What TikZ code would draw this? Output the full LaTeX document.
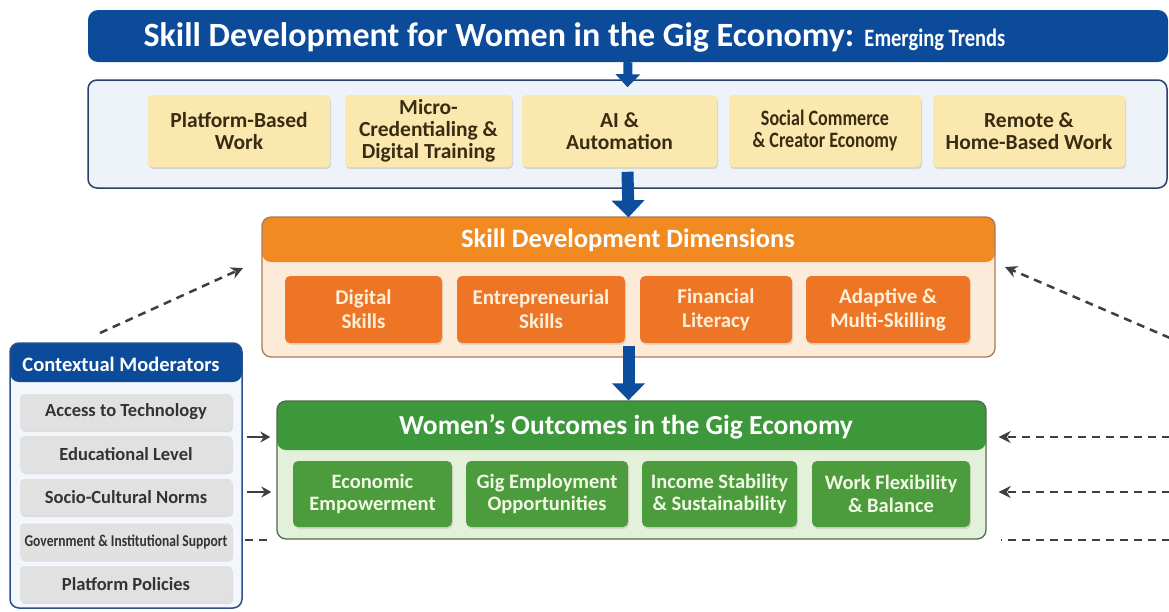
\documentclass[tikz,border=0pt]{standalone}
\usepackage{fontspec}
\setmainfont{Carlito}
\newfontfamily\condfont[FakeStretch=0.82]{Carlito}
\usetikzlibrary{arrows.meta,shadows}

\definecolor{bannerblue}{HTML}{0C4A9A}
\definecolor{arrowblue}{HTML}{0D4D9E}
\definecolor{trendbg}{HTML}{EEF3FA}
\definecolor{trendline}{HTML}{2B3F6B}
\definecolor{trendyellow}{HTML}{FBE8AE}
\definecolor{trendtext}{HTML}{3A2C12}
\definecolor{dimhead}{HTML}{F28A22}
\definecolor{dimbody}{HTML}{FDEBD9}
\definecolor{dimline}{HTML}{A97A58}
\definecolor{dimbox}{HTML}{EF7526}
\definecolor{dimtext}{HTML}{FDF0DA}
\definecolor{outhead}{HTML}{3C983A}
\definecolor{outbody}{HTML}{E4F1DA}
\definecolor{outline}{HTML}{4E6A4E}
\definecolor{outbox}{HTML}{4C9C3D}
\definecolor{outtext}{HTML}{F1F8E4}
\definecolor{modbody}{HTML}{F3F6FB}
\definecolor{modline}{HTML}{2C4F8A}
\definecolor{moditem}{HTML}{E1E1E1}
\definecolor{modtext}{HTML}{333333}
\definecolor{linkgrey}{HTML}{3F3F3F}

\tikzset{
	banner/.style={fill=bannerblue, rounded corners=10, minimum width=1080pt, minimum height=52pt},
	trendframe/.style={draw=trendline, line width=1.5pt, fill=trendbg, rounded corners=9,
		minimum width=1079pt, minimum height=108pt},
	trend/.style={fill=trendyellow, rounded corners=4, minimum height=72pt, align=center,
		text=trendtext, font=\bfseries\fontsize{21.5}{22}\selectfont,
		drop shadow={shadow xshift=1pt, shadow yshift=-2pt, opacity=0.25}},
	dimframe/.style={draw=dimline, line width=1.3pt, fill=dimbody, rounded corners=9,
		minimum width=733pt, minimum height=140pt,
		path picture={\fill[dimhead] (path picture bounding box.north west) rectangle
			([yshift=-45pt]path picture bounding box.north east);}},
	dim/.style={fill=dimbox, rounded corners=5, minimum height=67pt, align=center,
		text=dimtext, font=\bfseries\fontsize{21}{24}\selectfont,
		drop shadow={shadow xshift=1pt, shadow yshift=-2pt, opacity=0.2}},
	outframe/.style={draw=outline, line width=1.3pt, fill=outbody, rounded corners=9,
		minimum width=709pt, minimum height=138pt,
		path picture={\fill[outhead] (path picture bounding box.north west) rectangle
			([yshift=-49pt]path picture bounding box.north east);}},
	outc/.style={fill=outbox, rounded corners=5, minimum height=66pt, align=center,
		text=outtext, font=\bfseries\fontsize{20.5}{22.5}\selectfont,
		drop shadow={shadow xshift=1pt, shadow yshift=-2pt, opacity=0.2}},
	modframe/.style={draw=modline, line width=1.5pt, fill=modbody, rounded corners=9,
		minimum width=232pt, minimum height=265pt,
		path picture={\fill[bannerblue] (path picture bounding box.north west) rectangle
			([yshift=-39pt]path picture bounding box.north east);}},
	moditm/.style={fill=moditem, rounded corners=4, minimum width=212pt, minimum height=36pt,
		text=modtext, font=\bfseries\fontsize{18.5}{20}\selectfont,
		drop shadow={shadow xshift=1pt, shadow yshift=-2pt, opacity=0.2}},
	headtxt/.style={text=white, font=\bfseries\fontsize{26.5}{28}\selectfont},
	bigarrow/.style={draw=arrowblue, line width=12pt, -{Triangle[width=32pt,length=17pt]}},
	smallarrow/.style={draw=arrowblue, line width=9pt, -{Triangle[width=24pt,length=13pt]}},
	modarrow/.style={draw=linkgrey, line width=2pt, -{Stealth[length=10pt,width=11pt]}},
	dasharrow/.style={draw=linkgrey, line width=2.5pt, dash pattern=on 8pt off 6pt,
		-{Stealth[length=12pt,width=12pt]}},
	dashline/.style={draw=linkgrey, line width=2.5pt, dash pattern=on 8pt off 6pt}
}

\begin{document}
\begin{tikzpicture}[x=1pt,y=-1pt]
		\useasboundingbox[fill=white] (0,0) rectangle (1169,611);

		%% Title banner
		\node[banner] at (628,36)(banner){};
		\node[anchor=west, text=white] at (140,37)(title){\bfseries\fontsize{34}{36}\selectfont
			Skill Development for Women in the Gig Economy: {\condfont\bfseries\fontsize{25}{27}\selectfont Emerging Trends}};

		%% Emerging trends
		\node[trendframe] at (627.5,134)(trends){};

		\node[trend, minimum width=182pt] at (239,131)(t1){Platform-Based\\Work};
		\node[trend, minimum width=167pt] at (428.5,131)(t2){Micro-\\Credentialing \&\\Digital Training};
		\node[trend, minimum width=195pt] at (619.5,131)(t3){AI \&\\Automation};
		\node[trend, minimum width=192pt] at (825,131)(t4){\condfont\fontsize{22}{22}\selectfont Social Commerce\\\condfont\fontsize{22}{22}\selectfont\& Creator Economy};
		\node[trend, minimum width=192pt] at (1029,131)(t5){Remote \&\\Home-Based Work};

		%% Skill development dimensions
		\node[dimframe] at (628.5,287)(dims){};
		\node[headtxt] at (628,240)(dimshead){Skill Development Dimensions};

		\node[dim, minimum width=157pt] at (363.5,309.5)(d1){Digital\\Skills};
		\node[dim, minimum width=168pt] at (541,309.5)(d2){Entrepreneurial\\Skills};
		\node[dim, minimum width=152pt] at (716,309.5)(d3){Financial\\Literacy};
		\node[dim, minimum width=164pt] at (888,309.5)(d4){Adaptive \&\\Multi-Skilling};

		%% Outcomes
		\node[outframe] at (631.5,470)(outs){};
		\node[headtxt, font=\bfseries\fontsize{27.5}{29}\selectfont] at (626,427)(outshead){Women's Outcomes in the Gig Economy};

		\node[outc, minimum width=159pt] at (372.5,494)(o1){Economic\\Empowerment};
		\node[outc, minimum width=162pt] at (547,494)(o2){Gig Employment\\Opportunities};
		\node[outc, minimum width=155pt] at (719.5,494)(o3){Income Stability\\\& Sustainability};
		\node[outc, minimum width=158pt] at (891,494)(o4){Work Flexibility\\\& Balance};

		%% Contextual moderators
		\node[modframe] at (126,475.5)(mods){};
		\node[headtxt, font=\bfseries\fontsize{20.5}{22}\selectfont] at (121,364)(modshead){Contextual Moderators};

		\node[moditm] at (126,412)(m1){Access to Technology};
		\node[moditm] at (126,454)(m2){Educational Level};
		\node[moditm] at (126,497)(m3){Socio-Cultural Norms};
		\node[moditm] at (126,541.5)(m4){\condfont\bfseries\fontsize{16.5}{18}\selectfont Government \& Institutional Support};
		\node[moditm] at (126,584)(m5){Platform Policies};

		%% Main flow
		\draw[smallarrow] (banner.south) -- ([yshift=-8pt]trends.north);
		\draw[bigarrow] ([yshift=17pt]trends.south) -- ([yshift=-1pt]dims.north);
		\draw[bigarrow] ([yshift=12pt]dims.south) -- (dims.south |- outs.north);

		%% Moderating links
		\coordinate (r1) at (0,437);
		\coordinate (r2) at (0,492);
		\coordinate (r3) at (0,540);
		\coordinate (dlA) at (100,333);
		\coordinate (dlB) at (243,268);
		\coordinate (drA) at (1170,338);
		\coordinate (drB) at (1005,267);
		\coordinate (edge) at (1170,0);

		\draw[modarrow] ([xshift=4pt]mods.east |- r1) -- ([xshift=-6pt]outs.west |- r1);
		\draw[modarrow] ([xshift=4pt]mods.east |- r2) -- ([xshift=-5pt]outs.west |- r2);
		\draw[dashline] ([xshift=2pt]mods.east |- r3) -- ([xshift=-4pt]outs.west |- r3);

		\draw[dasharrow] (dlA) -- (dlB);
		\draw[dasharrow] (drA) -- (drB);
		\draw[dasharrow] (edge |- r1) -- ([xshift=12pt]outs.east |- r1);
		\draw[dasharrow] (edge |- r2) -- ([xshift=12pt]outs.east |- r2);
		\draw[dashline] (edge |- r3) -- ([xshift=14pt]outs.east |- r3);
\end{tikzpicture}
\end{document}
